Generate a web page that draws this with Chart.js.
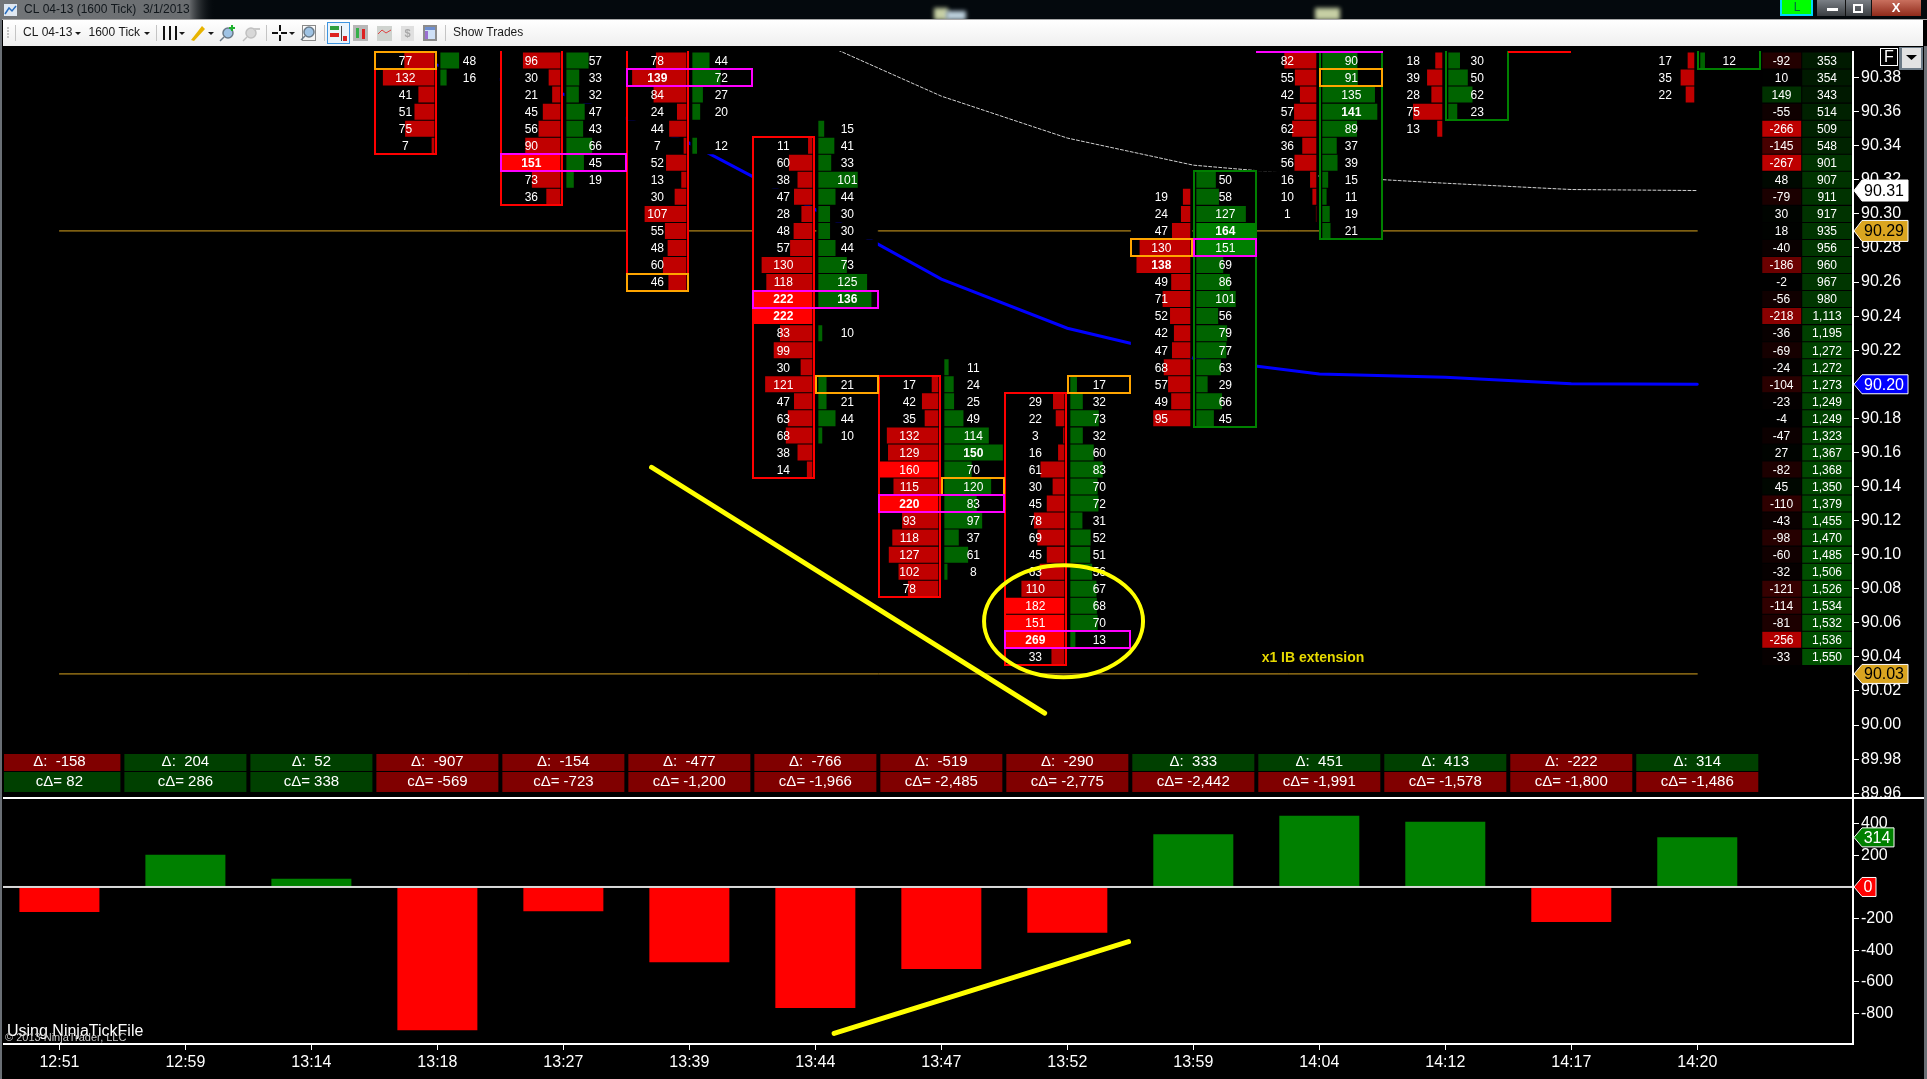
<!DOCTYPE html>
<html>
<head>
<meta charset="utf-8">
<title>CL 04-13 (1600 Tick) 3/1/2013</title>
<style>
html,body{margin:0;background:#000;overflow:hidden}
canvas{display:block}
</style>
<script src="https://cdn.jsdelivr.net/npm/chart.js@4"></script>
</head>
<body>
<canvas id="footprintChart" width="1927" height="1079"></canvas>
<script>
// bars
const barTimes = ['12:51','12:59','13:14','13:18','13:27','13:39','13:44','13:47','13:52','13:59','14:04','14:12','14:17','14:20'];
const barDelta = [-158,204,52,-907,-154,-477,-766,-519,-290,333,451,413,-222,314];
const cumDelta = [82,286,338,-569,-723,-1200,-1966,-2485,-2775,-2442,-1991,-1578,-1800,-1486];

// footprint columns, each one listed from its top price down
const footColumns = [3,4,5,6,7,8,9,10,11,13];
const bidTops = [90.39,90.39,90.39,90.34,90.20,90.19,90.31,90.39,90.39,90.39];
const askTops = [90.39,90.39,90.39,90.35,90.21,90.20,90.32,90.39,90.39,90.39];
const bidVols = [
  [77,132,41,51,75,7],
  [96,30,21,45,56,90,151,73,36],
  [78,139,84,24,44,7,52,13,30,107,55,48,60,46],
  [11,60,38,47,28,48,57,130,118,222,222,83,99,30,121,47,63,68,38,14],
  [17,42,35,132,129,160,115,220,93,118,127,102,78],
  [29,22,3,16,61,30,45,78,69,45,63,110,182,151,269,33],
  [19,24,47,130,138,49,71,52,42,47,68,57,49,95],
  [82,55,42,57,62,36,56,16,10,1],
  [18,39,28,75,13],
  [17,35,22]
];
const askVols = [
  [48,16],
  [57,33,32,47,43,66,45,19],
  [44,72,27,20,null,12],
  [15,41,33,101,44,30,30,44,73,125,136,null,10,null,null,21,21,44,10],
  [11,24,25,49,114,150,70,120,83,97,37,61,8],
  [17,32,73,32,60,83,70,72,31,52,51,56,67,68,70,13],
  [50,58,127,164,151,69,86,101,56,79,77,63,29,66,45],
  [90,91,135,141,89,37,39,15,11,19,21],
  [30,50,62,23],
  [12]
];

// body outlines: [bar, high, low, side]
const bodyBoxes = [[3,90.41,90.34,'bid'],[4,90.41,90.31,'bid'],[5,90.41,90.26,'bid'],[6,90.34,90.15,'bid'],[7,90.20,90.08,'bid'],[8,90.19,90.04,'bid'],
  [9,90.32,90.18,'ask'],[10,90.41,90.29,'ask'],[11,90.41,90.36,'ask'],[12,90.42,90.40,'bid'],[13,90.41,90.39,'ask']];
const orangeCells = [[3,90.39,'bid'],[5,90.26,'bid'],[6,90.20,'ask'],[7,90.14,'ask'],[8,90.20,'ask'],[9,90.28,'bid'],[10,90.38,'ask']];
const magentaCells = [[4,90.33,'both'],[5,90.38,'both'],[6,90.25,'both'],[7,90.13,'both'],[8,90.05,'both'],[9,90.28,'ask'],[10,90.40,'both']];

// right hand ladder, 90.39 down to 90.04
const ladderTop = 90.39;
const ladderDelta = [-92,10,149,-55,-266,-145,-267,48,-79,30,18,-40,-186,-2,-56,-218,-36,-69,-24,-104,-23,-4,-47,27,-82,45,-110,-43,-98,-60,-32,-121,-114,-81,-256,-33];
const ladderCum = [353,354,343,514,509,548,901,907,911,917,935,956,960,967,980,1113,1195,1272,1272,1273,1249,1249,1323,1367,1368,1350,1379,1455,1470,1485,1506,1526,1534,1532,1536,1550];

// indicator lines
const levelBars = [0,13];
const upperLevel = [90.29,90.29];
const lowerLevel = [90.03,90.03];
const vwapBars = [3,4,5,6,7,8,9,10,11,12,13];
const vwapLine = [90.3873,90.3703,90.3415,90.3025,90.2617,90.2329,90.2153,90.2061,90.2041,90.2003,90.2000];
const dottedBars = [6,7,8,9,10,11,12,13];
const dottedLine = [90.4020,90.3691,90.3445,90.3286,90.3222,90.3180,90.3143,90.3137];

// hand drawn marks
const yellowPriceBars = [4.70,7.82];
const yellowPrices = [90.1513,90.0070];
const yellowDeltaBars = [6.149,8.486];
const yellowDeltas = [-927,-346];

// axes
const priceTicks = [90.38,90.36,90.34,90.32,90.30,90.28,90.26,90.24,90.22,90.20,90.18,90.16,90.14,90.12,90.10,90.08,90.06,90.04,90.02,90.00,89.98,89.96];
const deltaTicks = [400,200,0,-200,-400,-600,-800];

const BAR_PX = 125.97;           // one bar on the x axis in pixels
const VOL_PX = 0.39;             // one contract in pixels
const FONT = '"Liberation Sans", Arial, sans-serif';

const row = (top, k) => +(top - k * 0.01).toFixed(2);
const volColBold = (v, col) => v >= 135 && v === Math.max(...col);

// horizontal floating bars for the cells
const bidBack = [], askBack = [], bidBars = [], askBars = [], bidColors = [], askColors = [];
footColumns.forEach((bar, c) => {
  bidVols[c].forEach((v, k) => {
    const y = row(bidTops[c], k);
    const right = bar - 3 / BAR_PX;
    bidBack.push({ y, x: [bar - 0.496, bar - 0.008] });
    bidBars.push({ y, x: [right - Math.min(v * VOL_PX, 59) / BAR_PX, right] });
    bidColors.push(v >= 150 ? '#ff0000' : '#c00000');
  });
  askVols[c].forEach((v, k) => {
    if (v === null) return;
    const y = row(askTops[c], k);
    const left = bar + 3 / BAR_PX;
    askBack.push({ y, x: [bar + 0.008, bar + 0.496] });
    askBars.push({ y, x: [left, left + Math.min(v * VOL_PX, 59) / BAR_PX] });
    askColors.push(v > 150 ? '#008000' : '#006400');
  });
});

const ladderDeltaColor = v => {
  const t = Math.pow(Math.min(Math.abs(v) / 267, 1), 1.6);
  return v < 0 ? `rgb(${Math.round(190 * t)},0,0)` : `rgb(0,${Math.round(124 * t)},0)`;
};
const ladderCumColor = v => `rgb(0,${Math.round(10 + 70 * v / 1550)},0)`;

const xy = (xs, ys) => xs.map((x, i) => ({ x, y: ys[i] }));
const hbar = (label, data, color, thickness, order) => ({
  type: 'bar', label, indexAxis: 'y', xAxisID: 'x', yAxisID: 'price', data,
  backgroundColor: color, barThickness: thickness, grouped: false, borderWidth: 0, inflateAmount: 0, order
});
const line = (label, data, yAxisID, color, width, order, dash) => ({
  type: 'line', label, data, xAxisID: 'x', yAxisID, borderColor: color, borderWidth: width,
  borderDash: dash || [], pointRadius: 0, tension: 0, fill: false, order, borderCapStyle: 'round'
});

function tag(ctx, x, y, w, h, fill, text, textColor) {
  ctx.beginPath();
  ctx.moveTo(x, y);
  ctx.lineTo(x + 8, y - h / 2);
  ctx.lineTo(x + w, y - h / 2);
  ctx.lineTo(x + w, y + h / 2);
  ctx.lineTo(x + 8, y + h / 2);
  ctx.closePath();
  ctx.fillStyle = fill;
  ctx.fill();
  ctx.strokeStyle = '#fff';
  ctx.lineWidth = 1;
  ctx.stroke();
  ctx.fillStyle = textColor;
  ctx.font = '16px ' + FONT;
  ctx.textAlign = 'center';
  ctx.textBaseline = 'middle';
  ctx.fillText(text, x + w / 2 + 3, y + 1);
}

function drawCells(chart) {
  const { ctx, scales, chartArea } = chart;
  const X = scales.x, P = scales.price;
  ctx.save();
  ctx.beginPath();
  ctx.rect(0, chartArea.top, 1927, chartArea.bottom - chartArea.top);
  ctx.clip();
  const cellBox = (bar, hi, lo, side, color) => {
    const c = X.getPixelForValue(bar);
    const l = Math.round(side === 'ask' ? c + 1 : c - 62.5);
    const r = Math.round(side === 'bid' ? c - 1 : c + 62.5);
    const t = Math.round(P.getPixelForValue(hi + 0.005));
    const b = Math.round(P.getPixelForValue(lo - 0.005));
    ctx.strokeStyle = color;
    ctx.lineWidth = 2;
    ctx.strokeRect(l, t, r - l, b - t);
  };
  bodyBoxes.forEach(b => cellBox(b[0], b[1], b[2], b[3], b[3] === 'bid' ? '#ff0000' : '#008000'));
  orangeCells.forEach(b => cellBox(b[0], b[1], b[1], b[2], '#ffa500'));
  magentaCells.forEach(b => cellBox(b[0], b[1], b[1], b[2], '#ff00ff'));
  ctx.restore();

  ctx.textAlign = 'center';
  ctx.textBaseline = 'middle';
  ctx.fillStyle = '#fff';
  footColumns.forEach((bar, c) => {
    const cx = X.getPixelForValue(bar);
    bidVols[c].forEach((v, k) => {
      ctx.font = (volColBold(v, bidVols[c]) ? 'bold ' : '') + '12px ' + FONT;
      ctx.fillText(v, cx - 32, P.getPixelForValue(row(bidTops[c], k)) + 1);
    });
    askVols[c].forEach((v, k) => {
      if (v === null) return;
      ctx.font = (volColBold(v, askVols[c]) ? 'bold ' : '') + '12px ' + FONT;
      ctx.fillText(v, cx + 32, P.getPixelForValue(row(askTops[c], k)) + 1);
    });
  });

  // ladder text
  ctx.font = '12px ' + FONT;
  ladderDelta.forEach((v, k) => {
    const y = P.getPixelForValue(row(ladderTop, k)) + 1;
    ctx.fillText(v, 1781.5, y);
    ctx.fillText(ladderCum[k].toLocaleString('en-US'), 1827, y);
  });
}

function drawChrome(ctx) {
  // title bar with its glow
  ctx.fillStyle = '#04090d';
  ctx.fillRect(0, 0, 1927, 19);
  let glow = ctx.createLinearGradient(0, 0, 215, 0);
  glow.addColorStop(0, '#727578');
  glow.addColorStop(0.88, '#6a6d70');
  glow.addColorStop(1, 'rgba(4,9,13,0)');
  ctx.fillStyle = glow;
  ctx.fillRect(0, 0, 215, 19);
  ctx.save();
  ctx.filter = 'blur(2px)';
  ctx.fillStyle = '#c6cfa4';
  ctx.fillRect(934, 8, 14, 12);
  ctx.fillRect(1315, 8, 25, 12);
  ctx.fillStyle = '#bcd0dc';
  ctx.fillRect(946, 11, 20, 9);
  ctx.restore();
  ctx.fillStyle = '#11171c';
  ctx.font = '12px ' + FONT;
  ctx.textAlign = 'left';
  ctx.textBaseline = 'middle';
  ctx.fillText('CL 04-13 (1600 Tick)  3/1/2013', 24, 10);
  ctx.fillStyle = '#dfe8f2';
  ctx.fillRect(4, 4, 13, 12);
  ctx.strokeStyle = '#2a6fc0';
  ctx.lineWidth = 1.5;
  ctx.beginPath(); ctx.moveTo(5, 14); ctx.lineTo(9, 8); ctx.lineTo(12, 11); ctx.lineTo(16, 6); ctx.stroke();

  // status and window buttons
  ctx.fillStyle = '#00d8ff';
  ctx.fillRect(1780, 0, 33, 16);
  ctx.fillStyle = '#00ff00';
  ctx.fillRect(1782, 0, 29, 14);
  ctx.fillStyle = '#064';
  ctx.font = '12px ' + FONT;
  ctx.textAlign = 'center';
  ctx.fillText('L', 1797, 8);
  let btn = ctx.createLinearGradient(0, 0, 0, 16);
  btn.addColorStop(0, '#7a7f85');
  btn.addColorStop(1, '#3a3e42');
  ctx.fillStyle = btn;
  ctx.fillRect(1817, 0, 55, 16);
  let close = ctx.createLinearGradient(0, 0, 0, 16);
  close.addColorStop(0, '#c9705e');
  close.addColorStop(1, '#8f2a1a');
  ctx.fillStyle = close;
  ctx.fillRect(1872, 0, 49, 16);
  ctx.fillStyle = '#111';
  ctx.fillRect(1845, 0, 1, 16);
  ctx.fillRect(1871, 0, 1, 16);
  ctx.fillStyle = '#fff';
  ctx.fillRect(1827, 8, 11, 3);
  ctx.strokeStyle = '#fff';
  ctx.lineWidth = 2;
  ctx.strokeRect(1854, 5, 8, 7);
  ctx.font = 'bold 13px ' + FONT;
  ctx.fillText('X', 1896, 8);

  // toolbar
  ctx.fillStyle = '#a8a8a8';
  ctx.fillRect(0, 19, 1927, 1);
  let bar = ctx.createLinearGradient(0, 20, 0, 46);
  bar.addColorStop(0, '#ffffff');
  bar.addColorStop(1, '#efefef');
  ctx.fillStyle = bar;
  ctx.fillRect(3, 20, 1920, 26);
  ctx.fillStyle = '#1a1a1a';
  ctx.font = '12px ' + FONT;
  ctx.textAlign = 'left';
  ctx.fillText('CL 04-13', 23, 33);
  ctx.fillText('1600 Tick', 88.5, 33);
  ctx.fillText('Show Trades', 453, 33);
  const arrow = x => { ctx.beginPath(); ctx.moveTo(x, 32); ctx.lineTo(x + 6, 32); ctx.lineTo(x + 3, 35); ctx.closePath(); ctx.fill(); };
  [75, 144, 179, 208, 289].forEach(arrow);
  ctx.fillStyle = '#c4c4c4';
  [15, 156, 266, 324, 445].forEach(x => ctx.fillRect(x, 25, 1, 16));
  [27, 30, 33, 36].forEach(y => ctx.fillRect(7, y, 2, 2));
  ctx.fillStyle = '#111';
  [163, 169, 175].forEach(x => ctx.fillRect(x, 26, 2, 14));
  // pencil
  ctx.fillStyle = '#e8b400';
  ctx.beginPath(); ctx.moveTo(191, 40); ctx.lineTo(202, 26); ctx.lineTo(205, 29); ctx.lineTo(194, 41); ctx.closePath(); ctx.fill();
  // magnifiers
  const glass = (x, y, fill, stroke) => {
    ctx.fillStyle = fill;
    ctx.strokeStyle = stroke;
    ctx.lineWidth = 1.5;
    ctx.beginPath(); ctx.arc(x, y, 5, 0, Math.PI * 2); ctx.fill(); ctx.stroke();
    ctx.beginPath(); ctx.moveTo(x - 4, y + 4); ctx.lineTo(x - 8, y + 8); ctx.stroke();
  };
  glass(228, 33, '#9fc3e4', '#6a7a88');
  ctx.fillStyle = '#1fb12f';
  ctx.fillRect(229, 27, 6, 2); ctx.fillRect(231, 25, 2, 6);
  glass(251, 33, '#d8d8d8', '#c0c0c0');
  ctx.fillStyle = '#c8c8c8';
  ctx.fillRect(254, 28, 6, 2);
  // crosshair
  ctx.fillStyle = '#111';
  ctx.fillRect(272, 32, 6, 2); ctx.fillRect(281, 32, 6, 2); ctx.fillRect(279, 25, 2, 6); ctx.fillRect(279, 35, 2, 6);
  // page with magnifier
  ctx.strokeStyle = '#8a8a8a';
  ctx.lineWidth = 1;
  ctx.strokeRect(302.5, 25.5, 13, 15);
  glass(309, 32, '#9fc3e4', '#6a7a88');
  // selected button
  ctx.fillStyle = '#eaf4fc';
  ctx.fillRect(327, 22, 23, 21);
  ctx.strokeStyle = '#3c94e0';
  ctx.lineWidth = 1;
  ctx.strokeRect(327.5, 22.5, 22, 21);
  ctx.fillStyle = '#2e9e3e';
  ctx.fillRect(330, 26, 9, 4);
  ctx.fillStyle = '#d22';
  ctx.fillRect(330, 33, 9, 4);
  ctx.fillStyle = '#444';
  ctx.fillRect(341, 26, 1, 15);
  ctx.fillStyle = '#d22';
  ctx.fillRect(343, 36, 4, 5);
  // candle button
  ctx.fillStyle = '#b8b8b8';
  ctx.fillRect(353, 25, 15, 16);
  ctx.fillStyle = '#36b04a';
  ctx.fillRect(356, 28, 3, 10);
  ctx.fillStyle = '#d22';
  ctx.fillRect(362, 29, 3, 10);
  // line chart, dollar page, calculator
  ctx.fillStyle = '#cfd3cf';
  ctx.fillRect(377, 26, 15, 15);
  ctx.strokeStyle = '#d44';
  ctx.beginPath(); ctx.moveTo(378, 34); ctx.lineTo(382, 30); ctx.lineTo(386, 33); ctx.lineTo(391, 30); ctx.stroke();
  ctx.fillStyle = '#e0e0e0';
  ctx.fillRect(401, 26, 13, 15);
  ctx.fillStyle = '#a8a8a8';
  ctx.textAlign = 'center';
  ctx.font = 'bold 11px ' + FONT;
  ctx.fillText('$', 407.5, 34);
  ctx.fillStyle = '#8c8c8c';
  ctx.fillRect(423, 25, 14, 16);
  ctx.fillStyle = '#cfe0f5';
  ctx.fillRect(425, 27, 10, 12);
  ctx.fillStyle = '#6f8fd0';
  ctx.fillRect(425, 27, 10, 3);
  ctx.fillStyle = '#9a70d0';
  ctx.fillRect(425, 31, 3, 8);

  // F button and drop down over the price axis
  ctx.fillStyle = '#000';
  ctx.fillRect(1880, 48, 18, 18);
  ctx.strokeStyle = '#fff';
  ctx.lineWidth = 1;
  ctx.strokeRect(1880.5, 48.5, 17, 17);
  ctx.fillStyle = '#fff';
  ctx.font = '16px ' + FONT;
  ctx.textAlign = 'center';
  ctx.fillText('F', 1889, 58);
  ctx.fillStyle = '#6c7a86';
  ctx.fillRect(1899, 47, 24, 23);
  ctx.fillStyle = '#e2e2e2';
  ctx.fillRect(1902, 48, 19, 20);
  ctx.fillStyle = '#000';
  ctx.beginPath(); ctx.moveTo(1906, 55); ctx.lineTo(1917, 55); ctx.lineTo(1911.5, 60); ctx.closePath(); ctx.fill();

  // window frame
  ctx.fillStyle = '#6a6f75';
  ctx.fillRect(0, 19, 2, 1060);
  ctx.fillRect(1924, 46, 3, 1033);
}

const paintPlugin = {
  id: 'paintPlugin',
  beforeDraw(chart) {
    chart.ctx.fillStyle = '#000';
    chart.ctx.fillRect(0, 0, 1927, 1079);
  },
  afterDatasetDraw(chart, args) {
    if (chart.data.datasets[args.index].label === 'Asks') drawCells(chart);
  },
  afterDatasetsDraw(chart) {
    const { ctx, scales } = chart;
    const X = scales.x, P = scales.price, D = scales.delta;

    // zero line of the delta panel
    const zero = D.getPixelForValue(0);
    ctx.fillStyle = '#d8d8d8';
    ctx.fillRect(3, zero - 1, 1850, 2);

    // circle round the low of the 13:52 bar
    ctx.strokeStyle = '#ffff00';
    ctx.lineWidth = 4;
    ctx.beginPath();
    ctx.ellipse(X.getPixelForValue(7.97), P.getPixelForValue(90.0609), 79.5, 56, 0, 0, Math.PI * 2);
    ctx.stroke();

    ctx.fillStyle = '#e6d800';
    ctx.font = 'bold 14px ' + FONT;
    ctx.textAlign = 'center';
    ctx.textBaseline = 'middle';
    ctx.fillText('x1 IB extension', X.getPixelForValue(9.95), P.getPixelForValue(90.0394));

    // delta / cum delta boxes
    barTimes.forEach((t, i) => {
      const c = X.getPixelForValue(i);
      const left = Math.max(c - 61, 4);
      const w = c + 61 - left;
      ctx.fillStyle = barDelta[i] < 0 ? '#800000' : '#004000';
      ctx.fillRect(left, 754, w, 17);
      ctx.fillStyle = cumDelta[i] < 0 ? '#800000' : '#004000';
      ctx.fillRect(left, 772, w, 20);
      ctx.fillStyle = '#fff';
      ctx.font = '15px ' + FONT;
      ctx.fillText('Δ:  ' + barDelta[i].toLocaleString('en-US'), c, 762);
      ctx.fillText('cΔ= ' + cumDelta[i].toLocaleString('en-US'), c, 782);
    });

    // panel lines
    ctx.fillStyle = '#fff';
    ctx.fillRect(3, 797, 1921, 2);
    ctx.fillRect(3, 1043, 1850, 2);
    ctx.fillRect(1852, 51, 2, 994);

    // price markers
    tag(ctx, 1854, P.getPixelForValue(dottedLine[dottedLine.length - 1]), 54, 21, '#ffffff', dottedLine[dottedLine.length - 1].toFixed(2), '#000');
    tag(ctx, 1854, P.getPixelForValue(upperLevel[1]), 54, 21, '#daa520', upperLevel[1].toFixed(2), '#000');
    tag(ctx, 1854, P.getPixelForValue(vwapLine[vwapLine.length - 1]), 54, 19, '#0000ff', vwapLine[vwapLine.length - 1].toFixed(2), '#fff');
    tag(ctx, 1854, P.getPixelForValue(lowerLevel[1]), 54, 19, '#daa520', lowerLevel[1].toFixed(2), '#000');
    tag(ctx, 1854, D.getPixelForValue(barDelta[13]), 40, 19, '#008000', barDelta[13], '#fff');
    tag(ctx, 1854, zero, 22, 19, '#ff0000', '0', '#fff');

    // credits
    ctx.textAlign = 'left';
    ctx.textBaseline = 'alphabetic';
    ctx.fillStyle = '#fff';
    ctx.font = '16px ' + FONT;
    ctx.fillText('Using NinjaTickFile', 7, 1036);
    ctx.fillStyle = '#c8c8c8';
    ctx.font = '11px ' + FONT;
    ctx.fillText('© 2013 NinjaTrader, LLC', 5, 1041);

    drawChrome(ctx);
  }
};

new Chart(document.getElementById('footprintChart'), {
  type: 'bar',
  plugins: [paintPlugin],
  data: {
    datasets: [
      line('Upper level', xy(levelBars, upperLevel), 'price', '#daa520', 1, 12),
      line('Lower level', xy(levelBars, lowerLevel), 'price', '#daa520', 1, 12),
      line('VWAP', xy(vwapBars, vwapLine), 'price', '#0000ff', 3, 11),
      line('Dotted', xy(dottedBars, dottedLine), 'price', '#d0d0d0', 1, 11, [3, 2]),
      hbar('Bid back', bidBack, '#000', 17, 9),
      hbar('Ask back', askBack, '#000', 17, 8),
      hbar('Ladder delta', ladderDelta.map((v, k) => ({ y: row(ladderTop, k), x: [13.516, 13.825] })), ladderDelta.map(ladderDeltaColor), 16, 7),
      hbar('Ladder cum', ladderCum.map((v, k) => ({ y: row(ladderTop, k), x: [13.833, 14.225] })), ladderCum.map(ladderCumColor), 16, 6),
      hbar('Bids', bidBars, bidColors, 16, 5),
      hbar('Asks', askBars, askColors, 16, 4),
      {
        type: 'bar', label: 'Delta', xAxisID: 'x', yAxisID: 'delta',
        data: xy(barTimes.map((t, i) => i), barDelta),
        backgroundColor: barDelta.map(v => v < 0 ? '#ff0000' : '#008000'),
        barThickness: 80, grouped: false, borderWidth: 0, inflateAmount: 0, order: 3
      },
      line('Yellow price', xy(yellowPriceBars, yellowPrices), 'price', '#ffff00', 5, 1),
      line('Yellow delta', xy(yellowDeltaBars, yellowDeltas), 'delta', '#ffff00', 5, 1)
    ]
  },
  options: {
    responsive: false,
    animation: false,
    events: [],
    layout: { padding: { left: 3, top: 51, right: 0, bottom: 0 } },
    plugins: { legend: { display: false }, tooltip: { enabled: false }, title: { display: false } },
    scales: {
      x: {
        type: 'linear', axis: 'x', position: 'bottom', offset: false,
        min: -0.4477, max: 14.236,
        grid: { offset: false, drawOnChartArea: false, color: '#fff', tickColor: '#fff', tickLength: 6 },
        border: { color: '#fff' },
        ticks: {
          color: '#fff', font: { family: 'Liberation Sans', size: 16 }, padding: 3,
          autoSkip: false, maxRotation: 0, callback: v => barTimes[v]
        },
        afterBuildTicks: s => { s.ticks = barTimes.map((t, i) => ({ value: i })); },
        afterFit: s => { s.height = 35; }
      },
      price: {
        type: 'linear', axis: 'y', position: 'right', stack: 'panes', stackWeight: 747.3, offset: false,
        beginAtZero: false, min: 89.9567, max: 90.3956,
        grid: { offset: false, drawOnChartArea: false, color: '#fff', tickColor: '#fff', tickLength: 6 },
        border: { color: '#fff' },
        ticks: {
          color: '#fff', font: { family: 'Liberation Sans', size: 16 }, padding: 2,
          autoSkip: false, callback: v => v.toFixed(2)
        },
        afterBuildTicks: s => { s.ticks = priceTicks.map(value => ({ value })); },
        afterFit: s => { s.width = 74; }
      },
      delta: {
        type: 'linear', axis: 'y', position: 'right', stack: 'panes', stackWeight: 245, offset: false,
        beginAtZero: false, min: -994, max: 558,
        grid: { offset: false, drawOnChartArea: false, color: '#fff', tickColor: '#fff', tickLength: 6 },
        border: { color: '#fff' },
        ticks: {
          color: '#fff', font: { family: 'Liberation Sans', size: 16 }, padding: 2,
          autoSkip: false, callback: v => v
        },
        afterBuildTicks: s => { s.ticks = deltaTicks.map(value => ({ value })); },
        afterFit: s => { s.width = 74; }
      }
    }
  }
});
</script>
</body>
</html>
